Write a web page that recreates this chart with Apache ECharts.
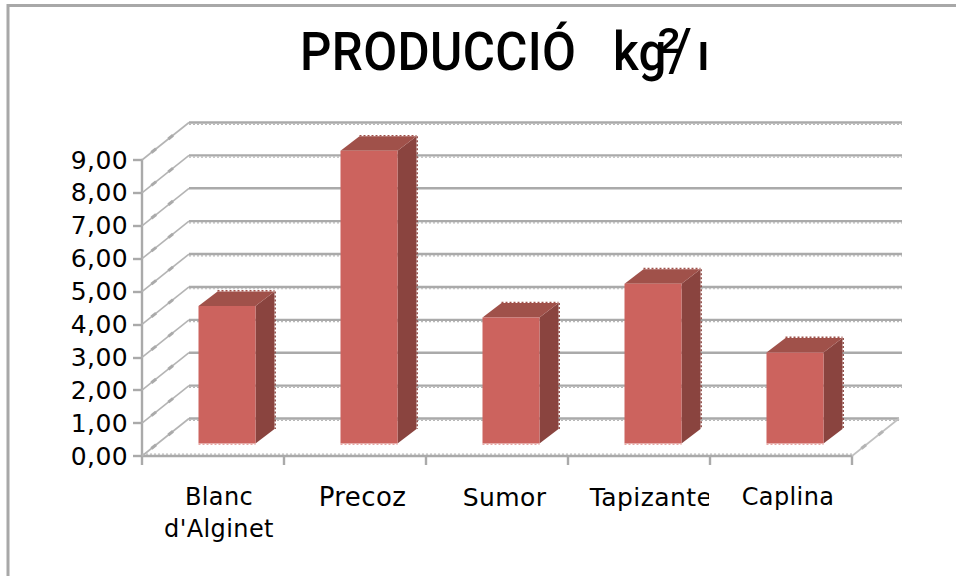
<!DOCTYPE html>
<html>
<head>
<meta charset="utf-8">
<title>Producció</title>
<style>
html,body{margin:0;padding:0;background:#fff}
#chart{width:956px;height:576px}
#chart svg text{letter-spacing:.4px}
</style>
<script src="https://cdn.jsdelivr.net/npm/echarts@6/dist/echarts.min.js"></script>
</head>
<body>
<div id="chart"></div>
<script>
// Production per variety, kg/m²
const categories = ["Blanc\nd'Alginet", 'Precoz', 'Sumor', 'Tapizante', 'Caplina'];
const production = [4.18, 8.9, 3.83, 4.86, 2.77];
const gridValues = [0, 1, 2, 3, 4, 5, 6, 7, 8, 9];
// Wall lines that carry the stair-stepped edge of the low-resolution rendering
const steppedValues = [0, 1, 3, 4, 5, 6, 8, 9];

// Per-label text tweaks on the category axis
const labelFontSizes = [24, 26, 25, 25, 24];
const labelPaddingLeft = [12, 15, 15, 24, 14];

// Oblique projection used for the pseudo-3D box
const WALL_DX = 47, WALL_DY = -37.5;      // floor depth, front axis to back wall
const BAR_DX = 14, BAR_DY = -12.5;        // bar's front face, measured from the axis
const BAR_WIDTH = 57, BAR_SIDE_DX = 19, BAR_SIDE_DY = -14.5;

const GRID_COLOR = '#aaaaaa';
const FACE = '#cc635e', SIDE = '#8a443f', TOP = '#a0514a', FACE_EDGE = '#e8a5a2';
const TEXT_FONT = '"DejaVu Sans"';
const STEP_DASH = [2, 2];

function sidePoint(x0, y, t) {
  return [x0 + WALL_DX * t, y + WALL_DY * t];
}

function renderWall(params, api) {
  const v = api.value(0);
  const cs = params.coordSys;
  const y = api.coord([0, v])[1];
  const x0 = cs.x, x1 = cs.x + cs.width;
  const backY = y + WALL_DY;
  const backEnd = x1 + WALL_DX + (v === 0 ? 0 : 3);
  const children = [
    { type: 'line', shape: { x1: x0, y1: y, x2: x0 + WALL_DX, y2: backY }, style: { stroke: '#b4b4b4', lineWidth: 1.6 } },
    { type: 'line', shape: { x1: x0 + WALL_DX, y1: backY, x2: backEnd, y2: backY }, style: { stroke: GRID_COLOR, lineWidth: 2.4 } }
  ];
  // Heavier spots along the receding line
  [[0.2, 0.3], [0.56, 0.66]].forEach(([a, b]) => {
    const p = sidePoint(x0, y, a), q = sidePoint(x0, y, b);
    children.push({ type: 'line', shape: { x1: p[0], y1: p[1], x2: q[0], y2: q[1] }, style: { stroke: GRID_COLOR, lineWidth: 3 } });
  });
  if (steppedValues.indexOf(v) >= 0) {
    children.push({
      type: 'line',
      shape: { x1: x0 + WALL_DX, y1: backY + 1.8, x2: backEnd, y2: backY + 1.8 },
      style: { stroke: '#b8b8b8', lineWidth: 1.2, lineDash: STEP_DASH }
    });
  }
  if (v === 0) {
    // Right edge of the floor and the stepped front edge
    children.push(
      { type: 'line', shape: { x1: x1, y1: y, x2: x1 + WALL_DX, y2: backY }, style: { stroke: '#c0c0c0', lineWidth: 1.6 } },
      { type: 'line', shape: { x1: x0, y1: y - 1.8, x2: x1, y2: y - 1.8 }, style: { stroke: '#b8b8b8', lineWidth: 1.2, lineDash: STEP_DASH } }
    );
    [[0.2, 0.3], [0.56, 0.66]].forEach(([a, b]) => {
      const p = sidePoint(x1, y, a), q = sidePoint(x1, y, b);
      children.push({ type: 'line', shape: { x1: p[0], y1: p[1], x2: q[0], y2: q[1] }, style: { stroke: '#b4b4b4', lineWidth: 3 } });
    });
  }
  return { type: 'group', children };
}

function renderBar(params, api) {
  const top = api.coord([api.value(0), api.value(1)]);
  const base = api.coord([api.value(0), 0]);
  const xl = base[0] + BAR_DX - BAR_WIDTH / 2;
  const xr = xl + BAR_WIDTH;
  const yt = top[1] + BAR_DY;
  const yb = base[1] + BAR_DY;
  const sx = xr + BAR_SIDE_DX, syt = yt + BAR_SIDE_DY, syb = yb + BAR_SIDE_DY;
  return {
    type: 'group',
    children: [
      { type: 'polygon', shape: { points: [[xr, yt], [sx, syt], [sx, syb], [xr, yb]] }, style: { fill: SIDE } },
      { type: 'polygon', shape: { points: [[xl, yt], [xl + BAR_SIDE_DX, syt], [sx, syt], [xr, yt]] }, style: { fill: TOP } },
      { type: 'rect', shape: { x: xl, y: yt, width: BAR_WIDTH, height: yb - yt }, style: { fill: FACE } },
      // Stepped outer edges of the box
      { type: 'line', shape: { x1: sx + 0.7, y1: syt, x2: sx + 0.7, y2: syb }, style: { stroke: SIDE, lineWidth: 1.4, lineDash: STEP_DASH } },
      { type: 'line', shape: { x1: xl + BAR_SIDE_DX, y1: syt - 0.7, x2: sx, y2: syt - 0.7 }, style: { stroke: TOP, lineWidth: 1.4, lineDash: STEP_DASH } },
      { type: 'line', shape: { x1: xl, y1: yb + 0.7, x2: xr, y2: yb + 0.7 }, style: { stroke: FACE_EDGE, lineWidth: 1.4, lineDash: STEP_DASH } }
    ]
  };
}

const titleStyle = { fontFamily: 'Roboto', fontWeight: 500, fontSize: 53, fill: '#000' };
const titleGlyph = (text, x, y, scale, weight) => ({
  type: 'text', z: 100, x, y, scaleX: scale || 0.93, scaleY: scale || 1,
  style: Object.assign({ text }, titleStyle, weight ? { fontWeight: weight } : {})
});

const chart = echarts.init(document.getElementById('chart'), null, { renderer: 'svg' });
chart.setOption({
  animation: false,
  backgroundColor: '#fff',
  grid: { left: 142, right: 104, top: 160, bottom: 120, containLabel: false },
  xAxis: {
    type: 'category',
    data: categories.map((value, i) => ({
      value,
      textStyle: { fontSize: labelFontSizes[i], padding: [0, 0, 0, labelPaddingLeft[i]] }
    })),
    axisLine: { onZero: true, lineStyle: { color: GRID_COLOR, width: 2.4 } },
    axisTick: { show: true, alignWithLabel: false, length: 9, lineStyle: { color: GRID_COLOR, width: 2.4 } },
    axisLabel: {
      interval: 0, margin: 25, color: '#000', fontFamily: TEXT_FONT, fontSize: 24,
      lineHeight: 32, align: 'center', hideOverlap: false
    },
    splitLine: { show: false }
  },
  yAxis: {
    type: 'value',
    min: 0, max: 9, interval: 1,
    axisLine: { show: true, lineStyle: { color: GRID_COLOR, width: 2.4 } },
    axisTick: { show: true, length: 9, lineStyle: { color: GRID_COLOR, width: 2.4 } },
    axisLabel: {
      margin: 14, color: '#000', fontFamily: TEXT_FONT, fontSize: 25,
      padding: [0, 0, 2, 0], formatter: v => v.toFixed(2).replace('.', ',')
    },
    splitLine: { show: false }
  },
  series: [
    {
      type: 'custom',
      name: 'Parets',
      renderItem: renderWall,
      data: gridValues.map(v => [v]),
      encode: { y: 0 },
      z: 1,
      silent: true
    },
    {
      type: 'custom',
      name: 'Producció',
      renderItem: renderBar,
      data: production.map((v, i) => [i, v]),
      encode: { x: 0, y: 1 },
      z: 3,
      silent: true
    }
  ],
  graphic: [
    // Chart frame, open on the right and at the bottom
    { type: 'rect', z: 0, shape: { x: 8, y: 5.5, width: 1000, height: 700 }, style: { fill: null, stroke: '#a8a8a8', lineWidth: 3 } },
    // The category label area cuts off text at the tick
    { type: 'rect', z: 100, shape: { x: 709, y: 480, width: 11, height: 32 }, style: { fill: '#fff' } },
    titleGlyph('PRODUCCIÓ', 300, 25),
    titleGlyph('kg', 613, 25),
    titleGlyph('²', 657, 19, 1.25, 400),
    titleGlyph('/', 668, 20, 1.12, 400),
    titleGlyph('ı', 697, 25)
  ]
});
</script>
</body>
</html>
